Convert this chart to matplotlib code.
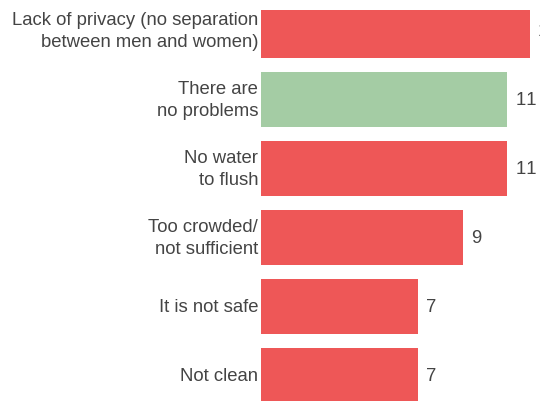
import matplotlib
matplotlib.use("Agg")
import matplotlib.pyplot as plt
from matplotlib.transforms import offset_copy

categories = [
    "Lack of privacy (no separation\nbetween men and women)",
    "There are\nno problems",
    "No water\nto flush",
    "Too crowded/\nnot sufficient",
    "It is not safe",
    "Not clean",
]
values = [12, 11, 11, 9, 7, 7]
colors = ["#EE5757", "#A4CCA4", "#EE5757", "#EE5757", "#EE5757", "#EE5757"]

W, H = 540, 402
fig = plt.figure(figsize=(W / 100, H / 100), dpi=100)
ax = fig.add_axes([261 / W, 0, 1 - 261 / W, (H - 11) / H])

ypos = list(range(len(categories)))
ax.barh(ypos, values, height=0.8, color=colors, edgecolor="none")
ax.set_xlim(0, (W - 261) / 22.4)
ax.set_ylim(5.37, -0.297)
ax.axis("off")

fam = ["Liberation Sans", "DejaVu Sans"]
txt_color = "#444444"
for y, lab in zip(ypos, categories):
    ax.text(-0.13, y, lab, ha="right", va="center", fontsize=13.3,
            family=fam, color=txt_color, linespacing=1.45,
            clip_on=False)

trans = offset_copy(ax.transData, fig=fig, x=8.5, y=0, units="dots")
for y, v in zip(ypos, values):
    s = "\u200b".join(str(v))  # avoid pair kerning between digits
    ax.text(v, y, s, ha="left", va="center", fontsize=13.3,
            family=fam, color=txt_color, transform=trans,
            clip_on=False)

fig.savefig("out.png", dpi=100)
